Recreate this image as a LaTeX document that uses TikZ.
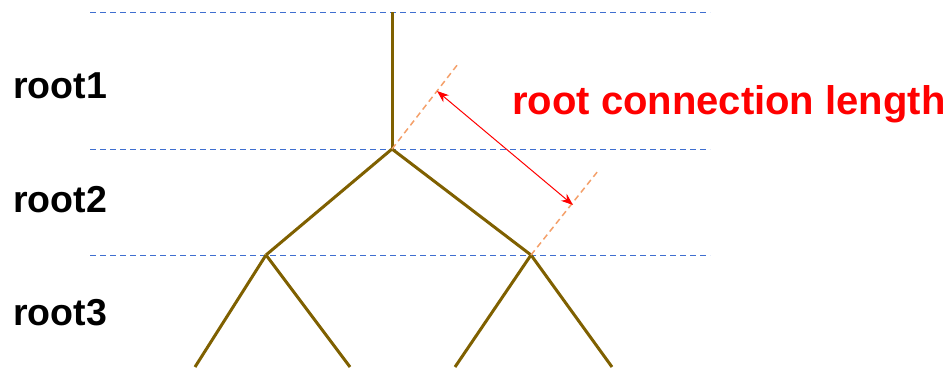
\documentclass[tikz,border=0pt]{standalone}
\usepackage{fontspec}
\setmainfont{Liberation Sans}
\usetikzlibrary{arrows.meta}
\definecolor{branch}{HTML}{7F6000}
\definecolor{guide}{HTML}{3F6FD0}
\definecolor{conn}{HTML}{F4A06A}
\tikzset{
  branchline/.style={draw=branch,line width=3pt},
  guideline/.style={draw=guide,line width=1pt,dash pattern=on 6pt off 4pt},
  connline/.style={draw=conn,line width=1.5pt,dash pattern=on 6pt off 4pt},
  measure/.style={draw=red,line width=1pt,{Stealth[length=12pt,width=9pt]}-{Stealth[length=12pt,width=9pt]}},
  levellabel/.style={font=\bfseries\fontsize{37.5}{40}\selectfont,anchor=west,inner sep=0pt},
}
\begin{document}
\begin{tikzpicture}[x=1pt,y=-1pt]
\useasboundingbox (0,0) rectangle (950,367);
% guide lines
\coordinate (g1l) at (90,12);  \coordinate (g1r) at (710,12);
\coordinate (g2l) at (90,149); \coordinate (g2r) at (710,149);
\coordinate (g3l) at (90,255); \coordinate (g3r) at (710,255);
\draw[guideline] (g1l) -- (g1r);
\draw[guideline] (g2l) -- (g2r);
\draw[guideline] (g3l) -- (g3r);
% tree
\coordinate (top) at (392,12);
\coordinate (A) at (392,149);
\coordinate (B) at (266,255);
\coordinate (C) at (531,255);
\coordinate (B1) at (195,367);
\coordinate (B2) at (350,367);
\coordinate (C1) at (455,367);
\coordinate (C2) at (612,367);
\draw[branchline] (top) -- (A);
\draw[branchline] (A) -- (B);
\draw[branchline] (A) -- (C);
\draw[branchline] (B) -- (B1);
\draw[branchline] (B) -- (B2);
\draw[branchline] (C) -- (C1);
\draw[branchline] (C) -- (C2);
% connection extensions
\coordinate (Ae) at (458,64);
\coordinate (Ce) at (598,171);
\draw[connline] (A) -- (Ae);
\draw[connline] (C) -- (Ce);
\coordinate (m1) at (437,91);
\coordinate (m2) at (573,205);
\draw[measure] (m1) -- (m2);
% labels
\node[levellabel] (r1) at (13,86) {root1};
\node[levellabel] (r2) at (13,200) {root2};
\node[levellabel] (r3) at (13,313) {root3};
\node[font=\bfseries\fontsize{40}{43}\selectfont,text=red,anchor=west,inner sep=0pt] (lab) at (512,104) {root connection length};
\end{tikzpicture}
\end{document}
